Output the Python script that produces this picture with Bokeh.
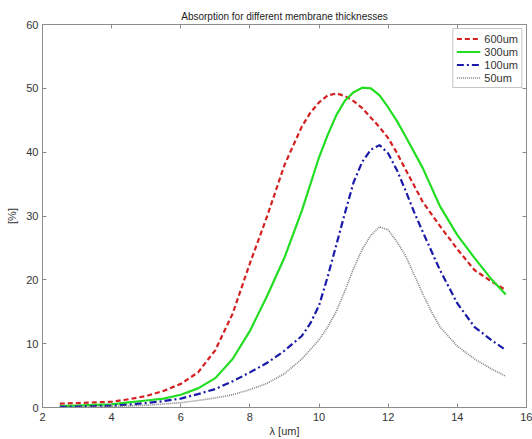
from bokeh.plotting import figure
from bokeh.models import Range1d, LinearAxis, FixedTicker, Legend, LegendItem
from bokeh.embed import file_html
from bokeh.resources import INLINE

# wavelength (um) and absorption (%) per membrane thickness
x_600 = [2.5, 3, 3.5, 4, 4.5, 5, 5.5, 6, 6.5, 7, 7.5, 8, 8.5, 9, 9.5, 9.75, 10, 10.25, 10.5, 10.75, 11, 11.25, 11.5, 11.75, 12, 12.25, 12.5, 13, 13.5, 14, 14.5, 15, 15.4]
y_600 = [0.6, 0.7, 0.8, 0.9, 1.3, 1.8, 2.6, 3.7, 5.5, 9.0, 14.7, 22.6, 30.0, 38.0, 44.0, 46.2, 47.8, 48.9, 49.2, 48.8, 48.0, 46.9, 45.4, 43.9, 42.2, 39.9, 37.3, 32.2, 28.4, 24.8, 21.5, 19.7, 18.4]
x_300 = [2.5, 3, 3.5, 4, 4.5, 5, 5.5, 6, 6.5, 7, 7.5, 8, 8.5, 9, 9.5, 10, 10.25, 10.5, 10.75, 11, 11.25, 11.5, 11.75, 12, 12.25, 12.5, 13, 13.5, 14, 14.5, 15, 15.4]
y_300 = [0.2, 0.3, 0.4, 0.5, 0.8, 1.1, 1.4, 2.0, 3.0, 4.6, 7.6, 12.0, 17.5, 23.5, 30.8, 39.2, 42.7, 45.8, 48.1, 49.4, 50.1, 50.0, 48.9, 47.0, 44.9, 42.5, 37.5, 31.5, 27.0, 23.4, 20.0, 17.7]
x_100 = [2.5, 3, 3.5, 4, 4.5, 5, 5.5, 6, 6.5, 7, 7.5, 8, 8.5, 9, 9.5, 9.75, 10, 10.25, 10.5, 10.75, 11, 11.25, 11.5, 11.75, 12, 12.25, 12.5, 12.75, 13, 13.5, 14, 14.5, 15, 15.4]
y_100 = [0.1, 0.15, 0.2, 0.3, 0.45, 0.7, 1.0, 1.4, 2.1, 2.9, 4.1, 5.5, 7.0, 8.9, 11.2, 13.2, 16.0, 20.5, 25.5, 30.5, 35.3, 38.5, 40.4, 41.1, 39.8, 37.2, 34.0, 30.6, 27.5, 21.5, 16.3, 12.6, 10.5, 9.0]
x_50 = [2.5, 3, 3.5, 4, 4.5, 5, 5.5, 6, 6.5, 7, 7.5, 8, 8.5, 9, 9.5, 10, 10.25, 10.5, 10.75, 11, 11.25, 11.5, 11.75, 12, 12.25, 12.5, 12.75, 13, 13.25, 13.5, 14, 14.5, 15, 15.4]
y_50 = [0.0, 0.05, 0.1, 0.15, 0.25, 0.35, 0.55, 0.75, 1.1, 1.5, 2.0, 2.8, 3.8, 5.3, 7.6, 10.6, 12.6, 15.1, 18.3, 21.8, 24.8, 27.0, 28.3, 27.8, 26.0, 23.8, 20.8, 17.8, 15.0, 12.6, 9.6, 7.6, 6.0, 4.9]

labels = ["600um", "300um", "100um", "50um"]
x_ticks = [2, 4, 6, 8, 10, 12, 14, 16]
y_ticks = [0, 10, 20, 30, 40, 50, 60]

FONT = "Liberation Sans"
TXT = "#333333"
FRAME = "#8c8c8c"

p = figure(width=532, height=439, output_backend="svg", toolbar_location=None,
           x_range=Range1d(2, 16), y_range=Range1d(0, 60),
           min_border_left=42, min_border_right=6, min_border_top=24, min_border_bottom=32)
p.title.text = "Absorption for different membrane thicknesses"
p.title.align = "center"
p.title.text_font = FONT
p.title.text_font_size = "10px"
p.title.text_font_style = "normal"
p.title.text_color = "#222222"
p.title.standoff = 6
p.title.offset = 0

p.grid.visible = False
p.outline_line_color = FRAME
p.outline_line_width = 1

for ax in (p.xaxis[0], p.yaxis[0]):
    ax.major_label_text_font = FONT
    ax.major_label_text_font_size = "11px"
    ax.major_label_text_color = TXT
    ax.axis_label_text_font = FONT
    ax.axis_label_text_font_size = "11px"
    ax.axis_label_text_font_style = "normal"
    ax.axis_label_text_color = TXT
    ax.axis_line_color = FRAME
    ax.major_tick_line_color = FRAME
    ax.major_tick_in = 4
    ax.major_tick_out = 0
    ax.minor_tick_line_color = None

p.xaxis[0].ticker = FixedTicker(ticks=x_ticks)
p.yaxis[0].ticker = FixedTicker(ticks=y_ticks)
p.xaxis[0].major_label_standoff = 5
p.xaxis[0].axis_label = "λ [um]"
p.xaxis[0].axis_label_standoff = 1
p.yaxis[0].major_label_standoff = 4
p.yaxis[0].axis_label = "[%]"
p.yaxis[0].axis_label_standoff = 5

top = LinearAxis(ticker=FixedTicker(ticks=x_ticks), major_label_text_font_size="1px",
                 major_label_text_color=None,
                 axis_line_color=None, major_tick_line_color=FRAME, major_tick_in=4,
                 major_tick_out=0, minor_tick_line_color=None, major_label_standoff=0)
right = LinearAxis(ticker=FixedTicker(ticks=y_ticks), major_label_text_font_size="1px",
                   major_label_text_color=None,
                   axis_line_color=None, major_tick_line_color=FRAME, major_tick_in=4,
                   major_tick_out=0, minor_tick_line_color=None, major_label_standoff=0)
p.add_layout(top, "above")
p.add_layout(right, "right")

r1 = p.line(x_600, y_600, line_color="#d42020", line_width=2.2, line_dash="5 3")
r2 = p.line(x_300, y_300, line_color="#22dd22", line_width=2.2)
r3 = p.line(x_100, y_100, line_color="#1a1aa8", line_width=2.2, line_dash="7 3 2 3")
r4 = p.line(x_50, y_50, line_color="#808080", line_width=1.6, line_dash="1 1")

legend = Legend(items=[LegendItem(label=labels[0], renderers=[r1]),
                       LegendItem(label=labels[1], renderers=[r2]),
                       LegendItem(label=labels[2], renderers=[r3]),
                       LegendItem(label=labels[3], renderers=[r4])],
                location="top_right")
legend.label_text_font = FONT
legend.label_text_font_size = "11px"
legend.label_text_color = TXT
legend.border_line_color = FRAME
legend.border_line_width = 1
legend.margin = 4
legend.padding = 3
legend.spacing = 0
legend.glyph_width = 24
legend.glyph_height = 13
legend.label_height = 13
legend.label_standoff = 4
legend.background_fill_alpha = 1
p.add_layout(legend)

open("out.html", "w").write(file_html(p, INLINE))
